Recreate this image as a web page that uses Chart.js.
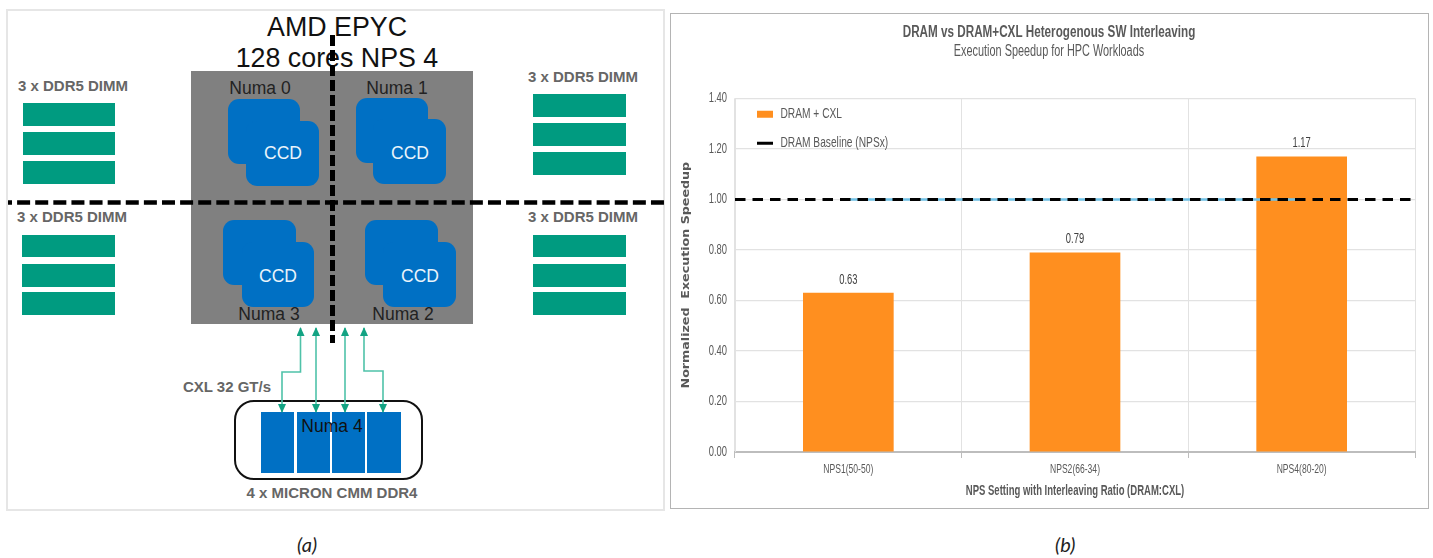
<!DOCTYPE html>
<html>
<head>
<meta charset="utf-8">
<title>DRAM vs DRAM+CXL</title>
<script src="https://cdn.jsdelivr.net/npm/chart.js@4/dist/chart.umd.min.js"></script>
<style>
  html, body { margin: 0; padding: 0; background: #fff; }
  #page { position: relative; width: 1433px; height: 558px; overflow: hidden; font-family: 'Liberation Sans', Arial, sans-serif; }
  #diagram { position: absolute; left: 0; top: 0; }
  #panel { position: absolute; left: 670px; top: 13px; width: 757px; height: 494px; border: 1px solid #b4b4b4; }
  #heatChart { position: absolute; left: 0; top: 0; }
  .cap { position: absolute; top: 532px; font: italic 20px Lato, sans-serif; color: #222; }
  .dimmLabel { font: bold 15px 'Liberation Sans'; fill: #666; text-anchor: middle; }
  .numa { font: 17.5px 'Liberation Sans'; fill: #222; text-anchor: middle; }
  .ccd { font: 17.5px 'Liberation Sans'; fill: #eaf4fb; text-anchor: middle; }
  .head { font: 26.8px 'Liberation Sans'; fill: #111; text-anchor: middle; }
</style>
</head>
<body>
<div id="page">
  <svg id="diagram" width="668" height="520" xmlns="http://www.w3.org/2000/svg">
    <defs>
      <marker id="tip" markerWidth="9" markerHeight="8" refX="8" refY="4" orient="auto-start-reverse" markerUnits="userSpaceOnUse">
        <path d="M0,0 L9,4 L0,8 Z" fill="#12a383"/>
      </marker>
    </defs>
    <rect x="7" y="10" width="657" height="500" fill="#fff" stroke="#e6e6e6" stroke-width="2"/>
    <rect x="191" y="71" width="282" height="253" fill="#808080"/>

    <g fill="#009b80">
      <rect x="23" y="103" width="92" height="23"/><rect x="23" y="132" width="92" height="23"/><rect x="23" y="161" width="92" height="23"/>
      <rect x="22" y="235" width="93" height="22"/><rect x="22" y="264" width="93" height="23"/><rect x="22" y="292" width="93" height="23"/>
      <rect x="533" y="94" width="93" height="23"/><rect x="533" y="123" width="93" height="23"/><rect x="533" y="152" width="93" height="23"/>
      <rect x="533" y="235" width="93" height="22"/><rect x="533" y="264" width="93" height="23"/><rect x="533" y="292" width="93" height="23"/>
    </g>
    <text class="dimmLabel" x="73" y="91">3 x DDR5 DIMM</text>
    <text class="dimmLabel" x="72" y="222">3 x DDR5 DIMM</text>
    <text class="dimmLabel" x="583" y="82">3 x DDR5 DIMM</text>
    <text class="dimmLabel" x="583" y="222">3 x DDR5 DIMM</text>

    <g fill="#0070c4">
      <rect x="228" y="99" width="72" height="65" rx="11"/><rect x="246" y="121" width="73" height="65" rx="11"/>
      <rect x="356" y="98" width="72" height="65" rx="11"/><rect x="373" y="119" width="73" height="65" rx="11"/>
      <rect x="223" y="220" width="73" height="65" rx="11"/><rect x="242" y="242" width="72" height="65" rx="11"/>
      <rect x="365" y="220" width="73" height="65" rx="11"/><rect x="383" y="242" width="73" height="65" rx="11"/>
    </g>
    <text class="ccd" x="283" y="159">CCD</text>
    <text class="ccd" x="410" y="159">CCD</text>
    <text class="ccd" x="278" y="282">CCD</text>
    <text class="ccd" x="420" y="282">CCD</text>
    <text class="numa" x="260" y="94">Numa 0</text>
    <text class="numa" x="397" y="94">Numa 1</text>
    <text class="numa" x="269" y="320">Numa 3</text>
    <text class="numa" x="403" y="320">Numa 2</text>

    <rect x="235" y="401" width="187" height="78" rx="19" fill="#fff" stroke="#111" stroke-width="2"/>
    <g fill="#0070c4">
      <rect x="261" y="412" width="33" height="61"/><rect x="297" y="412" width="33" height="61"/>
      <rect x="332" y="412" width="33" height="61"/><rect x="367" y="412" width="34" height="61"/>
    </g>

    <g fill="none" stroke="#4fc2a9" stroke-width="1.6">
      <path d="M300.5,328 V372 H282 V412" marker-start="url(#tip)" marker-end="url(#tip)"/>
      <path d="M316,328 V412" marker-start="url(#tip)" marker-end="url(#tip)"/>
      <path d="M345,328 V412" marker-start="url(#tip)" marker-end="url(#tip)"/>
      <path d="M364,328 V371 H383 V412" marker-start="url(#tip)" marker-end="url(#tip)"/>
    </g>

    <text class="numa" x="332" y="432" style="fill:#111">Numa 4</text>
    <text class="dimmLabel" x="227" y="392">CXL 32 GT/s</text>
    <text class="dimmLabel" x="332" y="498">4 x MICRON CMM DDR4</text>

    <text class="head" x="337" y="36">AMD EPYC</text>
    <text class="head" x="337" y="67">128 cores NPS 4</text>

    <line x1="8" y1="202.5" x2="664" y2="202.5" stroke="#000" stroke-width="4.5" stroke-dasharray="13 5.11" stroke-dashoffset="9"/>
    <line x1="332.5" y1="35" x2="332.5" y2="343" stroke="#000" stroke-width="5" stroke-dasharray="11 4"/>
  </svg>

  <div id="panel"><canvas id="heatChart" width="757" height="494"></canvas></div>
  <div class="cap" style="left:297px">(a)</div>
  <div class="cap" style="left:1055px">(b)</div>
</div>

<script>
const categories = ['NPS1(50-50)', 'NPS2(66-34)', 'NPS4(80-20)'];
const cxlValues = [0.63, 0.79, 1.17];
const baselineValues = [1.0, 1.0, 1.0];
const baselineSpan = [{ x: 0, y: 1.0 }, { x: 1, y: 1.0 }];

const sans = "'Liberation Sans', sans-serif";
const inkGrey = '#595959';
const gridGrey = '#e2e2e2';

const canvas = document.getElementById('heatChart');
const ctx2d = canvas.getContext('2d');

// the original text is condensed and no narrow font is installed, so squeeze it
// (the y axis title goes the other way, it is stretched)
const plainFillText = ctx2d.fillText.bind(ctx2d);
ctx2d.fillText = (text, x, y) => {
    ctx2d.save();
    ctx2d.translate(x, y);
    ctx2d.scale(String(text).startsWith('Normalized') ? 1.15 : 0.68, 1);
    plainFillText(text, 0, 0);
    ctx2d.restore();
};

// value labels above the bars
const barLabels = {
    id: 'barLabels',
    afterDatasetsDraw(chart) {
        const ctx = chart.ctx;
        ctx.save();
        ctx.font = '13.8px ' + sans;
        ctx.fillStyle = '#404040';
        ctx.textAlign = 'center';
        ctx.textBaseline = 'bottom';
        chart.getDatasetMeta(0).data.forEach((bar, i) => {
            ctx.fillText(cxlValues[i].toFixed(2), bar.x, bar.y - 6);
        });
        ctx.restore();
    }
};

// legend sits inside the plot, top left
const legendInPlot = {
    id: 'legendInPlot',
    afterLayout(chart) {
        chart.legend.left = chart.chartArea.left + 8;
        chart.legend.top = chart.chartArea.top - 5.5;
    }
};

new Chart(canvas, {
    type: 'bar',
    data: {
        labels: categories,
        datasets: [
            {
                label: 'DRAM + CXL',
                data: cxlValues,
                backgroundColor: '#ff8f1f',
                grouped: false,
                categoryPercentage: 1,
                barPercentage: 0.4,
                pointStyle: 'rect',
                order: 3
            },
            {
                type: 'line',
                label: 'baseline-blue',
                data: baselineValues,
                borderColor: '#6fc1e6',
                borderWidth: 2.5,
                pointRadius: 0,
                order: 2
            },
            {
                type: 'line',
                label: 'DRAM Baseline (NPSx)',
                data: baselineSpan,
                xAxisID: 'x2',
                parsing: false,
                borderColor: '#000',
                borderWidth: 3,
                borderDash: [10.5, 7],
                pointRadius: 0,
                pointStyle: 'line',
                pointBorderColor: '#000',
                pointBorderWidth: 3,
                order: 1
            }
        ]
    },
    options: {
        responsive: false,
        animation: false,
        devicePixelRatio: 1,
        layout: { padding: { top: 8, right: 13, bottom: 0, left: 12 } },
        plugins: {
            title: {
                display: true,
                text: 'DRAM vs DRAM+CXL Heterogenous SW Interleaving',
                color: inkGrey,
                font: { family: sans, size: 17.2, weight: 'bold' },
                padding: { top: 0, bottom: -1 }
            },
            subtitle: {
                display: true,
                text: 'Execution Speedup for HPC Workloads',
                color: inkGrey,
                font: { family: sans, size: 16 },
                padding: { top: 0, bottom: 37.5 }
            },
            legend: {
                position: 'chartArea',
                align: 'start',
                labels: {
                    usePointStyle: true,
                    pointStyleWidth: 16,
                    boxHeight: 7,
                    padding: 14,
                    color: inkGrey,
                    font: { family: sans, size: 15 },
                    filter: item => item.text !== 'baseline-blue',
                    sort: (a, b) => a.datasetIndex - b.datasetIndex
                }
            },
            tooltip: { enabled: false }
        },
        scales: {
            x: {
                grid: { color: gridGrey, offset: true, tickLength: 6, tickColor: '#bdbdbd' },
                border: { color: '#bdbdbd', width: 2 },
                ticks: { color: inkGrey, font: { family: sans, size: 12.6 }, padding: 4 },
                title: {
                    display: true,
                    text: 'NPS Setting with Interleaving Ratio (DRAM:CXL)',
                    color: inkGrey,
                    font: { family: sans, size: 14, weight: 'bold' },
                    padding: { top: 8, bottom: 8 }
                },
                afterFit(scale) { scale.height = 56; }
            },
            x2: { type: 'linear', min: 0, max: 1, display: false, offset: false },
            y: {
                min: 0,
                max: 1.4,
                grid: { color: gridGrey, drawTicks: false, lineWidth: 1.2 },
                border: { color: '#e2e2e2' },
                ticks: {
                    stepSize: 0.2,
                    padding: 8,
                    color: inkGrey,
                    font: { family: sans, size: 13.8 },
                    callback: v => v.toFixed(2)
                },
                title: {
                    display: true,
                    text: 'Normalized  Execution Speedup',
                    color: inkGrey,
                    font: { family: "'DejaVu Sans'", size: 11, weight: 'bold' },
                    padding: { top: -3, bottom: 0 }
                },
                afterFit(scale) { scale.width = 52; }
            }
        }
    },
    plugins: [barLabels, legendInPlot]
});
</script>
</body>
</html>
